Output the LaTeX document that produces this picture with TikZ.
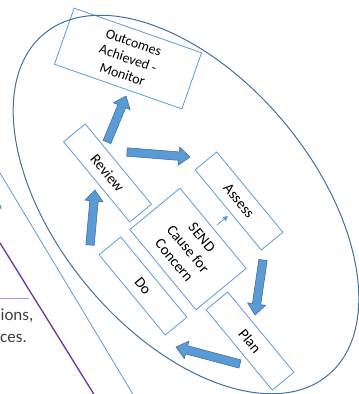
\documentclass[tikz,border=0pt]{standalone}
\usepackage{fontspec}
\setmainfont{Carlito}
\usepackage{tikz}
\usetikzlibrary{arrows.meta, calc}

\definecolor{boxblue}{RGB}{91,155,213}
\definecolor{rimblue}{RGB}{65,113,156}
\definecolor{arrowfill}{RGB}{91,155,213}
\definecolor{edgepurple}{RGB}{112,48,160}
\definecolor{lightpurple}{RGB}{180,140,220}
\definecolor{textgrey}{RGB}{64,64,64}

\begin{document}
\begin{tikzpicture}[x=1pt,y=-1pt]
  \tikzstyle{box}=[draw=boxblue, line width=0.8pt, inner sep=0pt, align=center]
  \tikzstyle{stage}=[box, minimum width=104, minimum height=28, rotate=-50.5,
    font=\fontsize{15}{18}\selectfont]
  \tikzstyle{outcome}=[box, minimum width=135, minimum height=59.5, rotate=-19.3,
    font=\fontsize{14}{17}\selectfont]
  \tikzstyle{bigarrow}=[draw=rimblue, fill=arrowfill, line width=0.6pt,
    to path={($(\tikztostart)!4.2pt!90:(\tikztotarget)$)
      -- ($(\tikztotarget)!11.78pt!-20.9:(\tikztostart)$)
      -- ($(\tikztotarget)!14.21pt!-39.29:(\tikztostart)$)
      -- (\tikztotarget)
      -- ($(\tikztotarget)!14.21pt!39.29:(\tikztostart)$)
      -- ($(\tikztotarget)!11.78pt!20.9:(\tikztostart)$)
      -- ($(\tikztostart)!4.2pt!-90:(\tikztotarget)$) -- cycle}]

  \useasboundingbox (0,0) rectangle (359,394);
  \clip (0,0) rectangle (359,394);

  \draw[edgepurple, line width=1.3pt] (0,243) -- (95,396);
  \draw[lightpurple, line width=0.9pt] (0,298) -- (29,298);
  \draw[boxblue, line width=0.8pt] (0,173) -- (134,396);
  \fill[boxblue] (-1,207) circle (2.5pt);

  \node[anchor=base east, inner sep=0pt, text=textgrey,
        font=\fontsize{17}{20}\selectfont] (ions) at (33.5,320) {ions,};
  \node[anchor=base east, inner sep=0pt, text=textgrey,
        font=\fontsize{17}{20}\selectfont] (ces)  at (27,342)   {ces.};

  \node[outcome]                  (outcomes) at (128,58.5) {Outcomes\\Achieved -\\Monitor};
  \node[stage]                    (review)   at (107.5,173) {Review};
  \node[stage]                    (assess)   at (239,201)   {Assess};
  \node[stage,minimum height=65]  (send)     at (188,249)   {SEND\\Cause for\\Concern};
  \node[stage]                    (do)       at (143,286)   {Do};
  \node[stage]                    (plan)     at (250,341)   {Plan};

  \draw[rimblue, line width=1pt, rotate around={-50.2:(186,204.5)}]
    (186,204.5) ellipse [x radius=222pt, y radius=128pt];

  \coordinate (rv_a) at (107,142);  \coordinate (rv_b) at (126,96);
  \coordinate (ra_a) at (127,152);  \coordinate (ra_b) at (190,157);
  \coordinate (ap_a) at (263,260);  \coordinate (ap_b) at (255,315);
  \coordinate (pd_a) at (240,364);  \coordinate (pd_b) at (176,347);
  \coordinate (dr_a) at (90,245);   \coordinate (dr_b) at (95,190);
  \coordinate (sn_a) at (217,225);  \coordinate (sn_b) at (228,216);

  \draw[bigarrow] (rv_a) to (rv_b);
  \draw[bigarrow] (ra_a) to (ra_b);
  \draw[bigarrow] (ap_a) to (ap_b);
  \draw[bigarrow] (pd_a) to (pd_b);
  \draw[bigarrow] (dr_a) to (dr_b);
  \draw[boxblue, line width=0.8pt, -{Triangle[length=5pt,width=5pt]}] (sn_a) -- (sn_b);
\end{tikzpicture}
\end{document}
